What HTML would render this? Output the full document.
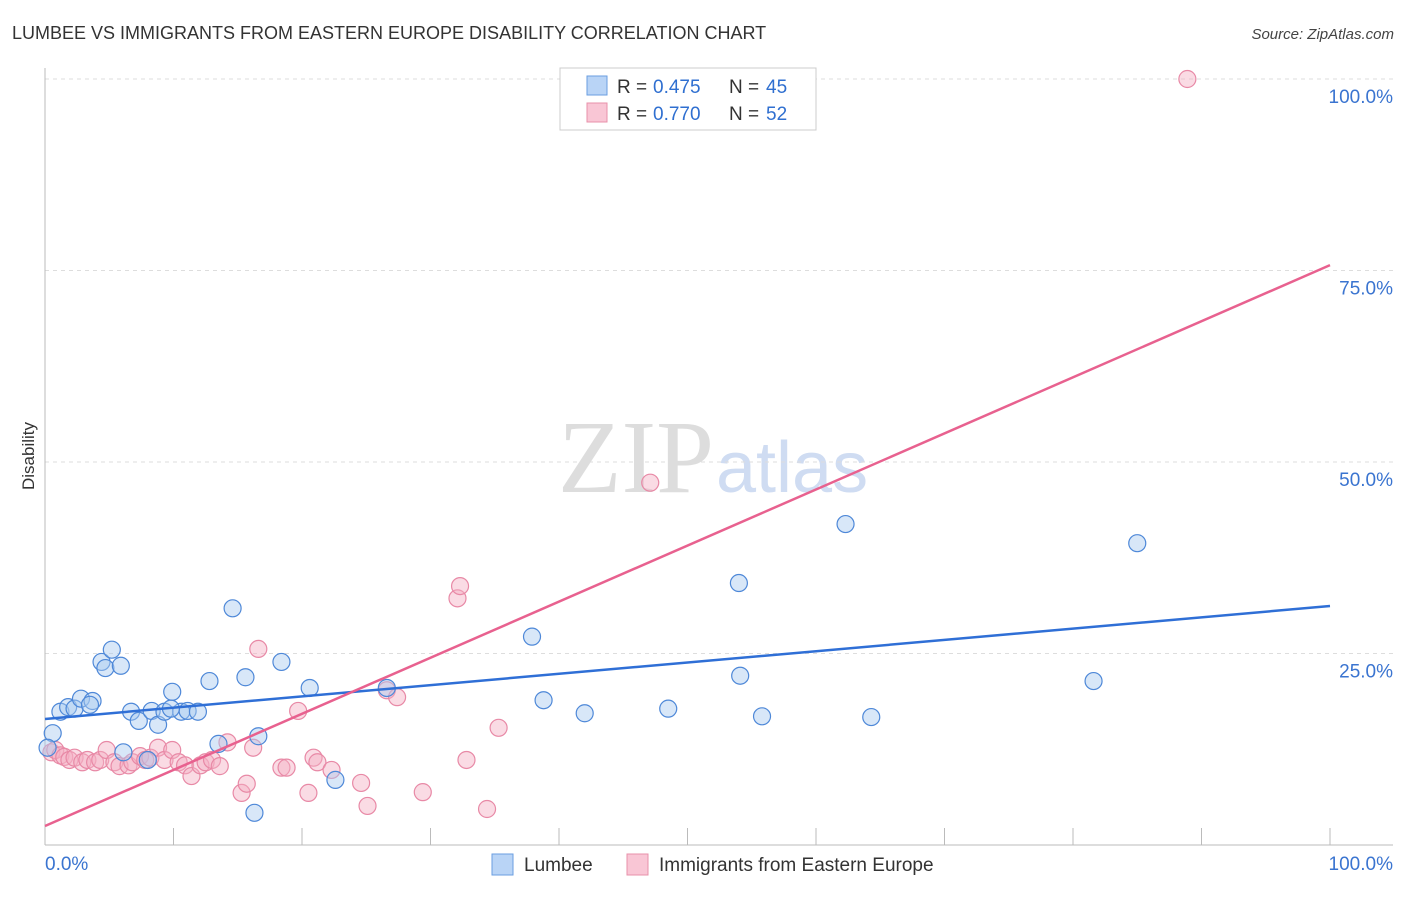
<!DOCTYPE html>
<html><head><meta charset="utf-8"><style>
body{margin:0;background:#fff;font-family:"Liberation Sans",sans-serif}
</style></head><body>
<svg id="c" width="1406" height="892" xmlns="http://www.w3.org/2000/svg">
<text x="12" y="39" font-size="18" fill="#333">LUMBEE VS IMMIGRANTS FROM EASTERN EUROPE DISABILITY CORRELATION CHART</text>
<text x="1394" y="39" font-size="15" fill="#444" font-style="italic" text-anchor="end">Source: ZipAtlas.com</text>
<text x="34" y="456" font-size="17" fill="#333" transform="rotate(-90 34 456)" text-anchor="middle">Disability</text>
<text x="714" y="492" font-size="104" fill="#ddd" text-anchor="end" font-family="Liberation Serif">ZIP</text>
<text x="716" y="492" font-size="72" fill="#cfdcf2">atlas</text>
<g id="grid"></g><g id="marks"></g>
<g>
<rect x="560" y="68" width="256" height="62" fill="#fff" stroke="#ccc"/>
<rect x="587" y="76" width="20" height="19" fill="#b9d4f6" stroke="#6a9ee0"/>
<text x="617" y="93" font-size="19" fill="#333">R =</text><text x="653" y="93" font-size="19" fill="#2f6fd0">0.475</text>
<text x="729" y="93" font-size="19" fill="#333">N =</text><text x="766" y="93" font-size="19" fill="#2f6fd0">45</text>
<rect x="587" y="103" width="20" height="19" fill="#f9c6d5" stroke="#e890aa"/>
<text x="617" y="120" font-size="19" fill="#333">R =</text><text x="653" y="120" font-size="19" fill="#2f6fd0">0.770</text>
<text x="729" y="120" font-size="19" fill="#333">N =</text><text x="766" y="120" font-size="19" fill="#2f6fd0">52</text>
</g>
<g>
<rect x="492" y="854" width="21" height="21" fill="#b9d4f6" stroke="#6a9ee0"/>
<text x="524" y="871" font-size="19" fill="#333">Lumbee</text>
<rect x="627" y="854" width="21" height="21" fill="#f9c6d5" stroke="#e890aa"/>
<text x="659" y="871" font-size="19" fill="#333">Immigrants from Eastern Europe</text>
</g>
</svg>
<script>
const yTicks=[25,50,75,100];
const yTickLabels=["25.0%","50.0%","75.0%","100.0%"];
const xTickLabels=["0.0%","100.0%"];
const blueX=[0.6,1.2,1.8,2.3,2.8,3.7,3.5,4.4,4.7,5.2,5.9,6.7,7.3,8.3,8.8,9.3,9.9,10.6,11.1,11.9,12.8,13.5,14.6,15.6,16.6,18.4,20.6,22.6,26.6,37.9,38.8,42.0,48.5,54.0,54.1,55.8,62.3,64.3,81.6,85.0,8.0,6.1,16.3,9.8,0.2];
const blueY=[14.6,17.4,18.0,17.8,19.1,18.8,18.3,23.9,23.1,25.5,23.4,17.4,16.2,17.5,15.7,17.4,20.0,17.4,17.5,17.4,21.4,13.2,30.9,21.9,14.2,23.9,20.5,8.5,20.5,27.2,18.9,17.2,17.8,34.2,22.1,16.8,41.9,16.7,21.4,39.4,11.1,12.1,4.2,17.8,12.7];
const pinkX=[0.5,0.8,1.2,1.5,1.9,2.3,2.9,3.3,3.9,4.3,4.8,5.4,5.8,6.5,6.8,7.4,7.8,8.2,8.8,9.3,9.9,10.4,10.9,11.4,12.1,12.5,13.0,13.6,14.2,15.3,15.7,16.2,16.6,18.4,18.8,19.7,20.5,20.9,21.2,22.3,24.6,25.1,26.6,27.4,29.4,32.1,32.3,32.8,34.4,35.3,47.1,88.9];
const pinkY=[12.1,12.4,11.7,11.5,11.1,11.4,10.8,11.1,10.8,11.1,12.4,10.8,10.3,10.4,10.8,11.6,11.1,11.4,12.7,11.1,12.4,10.8,10.4,9.0,10.4,10.8,11.1,10.3,13.4,6.8,8.0,12.7,25.6,10.1,10.1,17.5,6.8,11.4,10.8,9.8,8.1,5.1,20.2,19.3,6.9,32.2,33.8,11.1,4.7,15.3,47.3,100.0];
const blueTrend=[16.45,31.2];
const pinkTrend=[2.48,75.7];
const NS="http://www.w3.org/2000/svg";
const X=v=>45+v*12.85, Y=v=>845-v*7.66;
function mk(t,a,p){const e=document.createElementNS(NS,t);for(const k in a)e.setAttribute(k,a[k]);p.appendChild(e);return e;}
const g=document.getElementById('grid'),m=document.getElementById('marks');
yTicks.forEach((t,i)=>{
 const l=mk('line',{x1:45,x2:1393,y1:Y(t),y2:Y(t),stroke:'#ddd','stroke-dasharray':'4,4'},g);
 
 
 const tx=mk('text',{x:1393,y:Y(t)+24,'font-size':19,fill:'#3a74d0','text-anchor':'end'},g);tx.textContent=yTickLabels[i];
 
 
});
const ax=mk('line',{x1:45,x2:45,y1:68,y2:845,stroke:'#bbb'},g);


const bx=mk('line',{x1:45,x2:1393,y1:845,y2:845,stroke:'#bbb'},g);


for(let i=1;i<=10;i++){const t=mk('line',{x1:X(i*10),x2:X(i*10),y1:828,y2:845,stroke:'#bbb'},g);
 
 }
[[0,'start',45],[100,'end',1393]].forEach((d,i)=>{const tx=mk('text',{x:d[2],y:870,'font-size':19,fill:'#3a74d0','text-anchor':d[1]},g);tx.textContent=xTickLabels[i];
 
 });
function pts(xs,ys,fill,stroke,name){xs.forEach((x,i)=>{const c=mk('circle',{cx:X(x),cy:Y(ys[i]),r:8.5,fill:fill,'fill-opacity':0.45,stroke:stroke,'stroke-width':1.2},m);
 
 });}
pts(pinkX,pinkY,'#f4b0c4','#e889a6','pink-point');
pts(blueX,blueY,'#a9c9f0','#4e88d8','blue-point');
const bl=mk('line',{x1:X(0),y1:Y(blueTrend[0]),x2:X(100),y2:Y(blueTrend[1]),stroke:'#2f6fd6','stroke-width':2.5},m);


const pl=mk('line',{x1:X(0),y1:Y(pinkTrend[0]),x2:X(100),y2:Y(pinkTrend[1]),stroke:'#e8618f','stroke-width':2.5},m);


</script>
</body></html>
